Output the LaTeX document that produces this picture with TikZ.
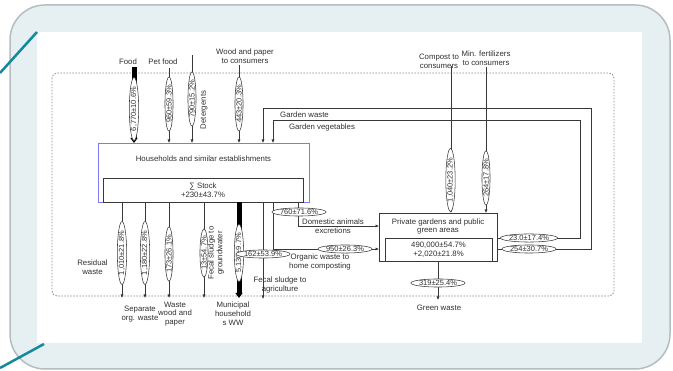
\documentclass[tikz,border=0pt]{standalone}
\usepackage{fontspec}
\setmainfont{Liberation Sans}
\usetikzlibrary{shapes.geometric,arrows.meta}
\definecolor{framefill}{HTML}{E6EFF2}
\definecolor{framedraw}{HTML}{B5BDC0}
\definecolor{tealline}{HTML}{13899C}
\definecolor{boxblue}{HTML}{7B7BF5}
\definecolor{linec}{HTML}{383838}
\definecolor{txt}{HTML}{303030}
\definecolor{dashc}{HTML}{8A8A8A}
\begin{document}
\begin{tikzpicture}[x=1pt,y=-1pt,
  lbl/.style={font=\fontsize{7.8}{8.8}\selectfont, text=txt, align=center, inner sep=0pt},
  val/.style={ellipse, draw=linec, fill=white, inner sep=0.2pt, line width=0.55pt, font=\fontsize{7.5}{8}\selectfont, text=txt},
  vval/.style={val, rotate=90},
  flow/.style={draw=linec, line width=0.75pt, -{Latex[length=3.5pt,width=3.2pt]}},
  bigflow/.style={draw=black, line width=5pt, -{Triangle[length=5pt,width=7pt]}},
  boxn/.style={draw=linec, line width=0.75pt, fill=white, inner sep=0pt, outer sep=0pt},
]
\useasboundingbox (0,0) rectangle (673,371);
% frame
\path[fill=framefill, draw=framedraw, line width=1.5pt, rounded corners=35pt] (10,5) rectangle (670,369);
\fill[white] (37,32) rectangle (642,343);
\draw[tealline, line width=2.5pt] (0,73) -- (37,32);
\draw[tealline, line width=2.5pt] (0,368) -- (44,344);
% system boundary
\draw[dashc, line width=0.8pt, dash pattern=on 1.5pt off 1.5pt, rounded corners=5pt] (52,73) rectangle (614,296);

% boxes
\node[draw=boxblue, line width=0.8pt, minimum width=211pt, minimum height=59pt, inner sep=0pt, outer sep=0pt] (hh) at (203.5,172.5) {};
\node[lbl] (hhT) at (203.5,159) {Households and similar establishments};
\node[boxn, minimum width=200pt, minimum height=24pt] (stock) at (203,190) {};
\node[lbl] (stT) at (203,190) {∑ Stock\\+230±43.7\%};

\node[boxn, fill=none, minimum width=118pt, minimum height=48pt] (pg) at (438,237) {};
\node[boxn, fill=none, minimum width=107pt, minimum height=23pt] (pgs) at (438.5,249.5) {};
\node[lbl] (pgT) at (438,226.5) {Private gardens and public\\green areas};
\node[lbl] (pgsT) at (438.5,249.5) {490,000±54.7\%\\+2,020±21.8\%};

% coordinates of free ends
\coordinate (foodS) at (134,67);
\coordinate (petS) at (169,68);
\coordinate (detS) at (192,55);
\coordinate (woodS) at (239,65);
\coordinate (compS) at (451,66);
\coordinate (fertS) at (486,67);
\coordinate (resE) at (122,298);
\coordinate (sepE) at (145,298);
\coordinate (wwE) at (169,298);
\coordinate (gwE) at (204,298);
\coordinate (munE) at (239,298);
\coordinate (agE) at (263,299);
\coordinate (greenE) at (438,300);

% inflows to households
\draw[bigflow] (foodS) -- (foodS |- hh.north);
\draw[flow] (petS) -- (petS |- hh.north);
\draw[flow] (detS) -- (detS |- hh.north);
\draw[flow] (woodS) -- (woodS |- hh.north);
\node[vval] (vfood) at (134,109) {6,770±10.6\%};
\node[vval] (vpet) at (169,104) {960±59.3\%};
\node[vval] (vdet) at (192,99) {790±15.2\%};
\node[vval] (vwood) at (239,104) {443±20.3\%};
\node[lbl] (lfood) at (128,62) {Food};
\node[lbl] (lpet) at (163,62) {Pet food};
\node[lbl, rotate=90] (ldet) at (204,110) {Detergents};
\node[lbl] (lwood) at (245,56) {Wood and paper\\to consumers};

% garden loops
\draw[flow] (pg.east |- 0,249) -- (591,249) -- (591,108) -- (263,108) -- (263,143);
\draw[flow] (pg.east |- 0,238) -- (580,238) -- (580,120) -- (273,120) -- (273,143);
\node[val] (vgw) at (529,249) {254±30.7\%};
\node[val] (vgv) at (529,238) {23.0±17.4\%};
\node[lbl] (lgw) at (304.5,115) {Garden waste};
\node[lbl] (lgv) at (322,127) {Garden vegetables};

% inflows to gardens
\draw[flow] (compS) -- (compS |- pg.north);
\draw[flow] (fertS) -- (fertS |- pg.north);
\node[vval] (vcomp) at (450.5,180) {1,040±23.2\%};
\node[vval] (vfert) at (486,178) {264±17.8\%};
\node[lbl] (lcomp) at (439,61) {Compost to\\consumers};
\node[lbl] (lfert) at (486,58.5) {Min. fertilizers\\to consumers};

% outflows of households
\draw[flow] (resE |- hh.south) -- (resE);
\draw[flow] (sepE |- hh.south) -- (sepE);
\draw[flow] (wwE |- hh.south) -- (wwE);
\draw[flow] (gwE |- hh.south) -- (gwE);
\draw[bigflow] (munE |- hh.south) -- (munE);
\draw[flow] (agE |- hh.south) -- (agE);
\draw[flow] (273,202) -- (273,249) -- (pg.west |- 0,249);
\draw[flow] (298,202) -- (298,226) -- (pg.west |- 0,226);
\node[vval] (vres) at (122,253) {1,010±21.8\%};
\node[vval] (vsep) at (145,253) {1,180±22.8\%};
\node[vval] (vww) at (169,254) {173±26.1\%};
\node[vval] (vgwt) at (204,253) {13±54.7\%};
\node[vval] (vmun) at (239,253) {5,130±9.7\%};
\node[val] (vag) at (263,254) {162±53.9\%};
\node[val] (vorg) at (345,249) {950±26.3\%};
\node[val] (vdom) at (299,212) {760±71.6\%};
\node[lbl] (lres) at (92.5,267) {Residual\\waste};
\node[lbl] (lsep) at (140,314) {Separate\\org. waste};
\node[lbl] (lww) at (175,314) {Waste\\wood and\\paper};
\node[lbl, rotate=90] (lgwt) at (216,253) {Fecal sludge to\\groundwater};
\node[lbl] (lmun) at (233,314) {Municipal\\household\\s WW};
\node[lbl] (lag) at (280,285) {Fecal sludge to\\agriculture};
\node[lbl] (lorg) at (320,262) {Organic waste to\\home composting};
\node[lbl] (ldom) at (333,226.5) {Domestic animals\\excretions};

% green waste
\draw[flow] (greenE |- pg.south) -- (greenE);
\node[val] (vgreen) at (438,283) {319±25.4\%};
\node[lbl] (lgreen) at (439,308) {Green waste};
\end{tikzpicture}
\end{document}
